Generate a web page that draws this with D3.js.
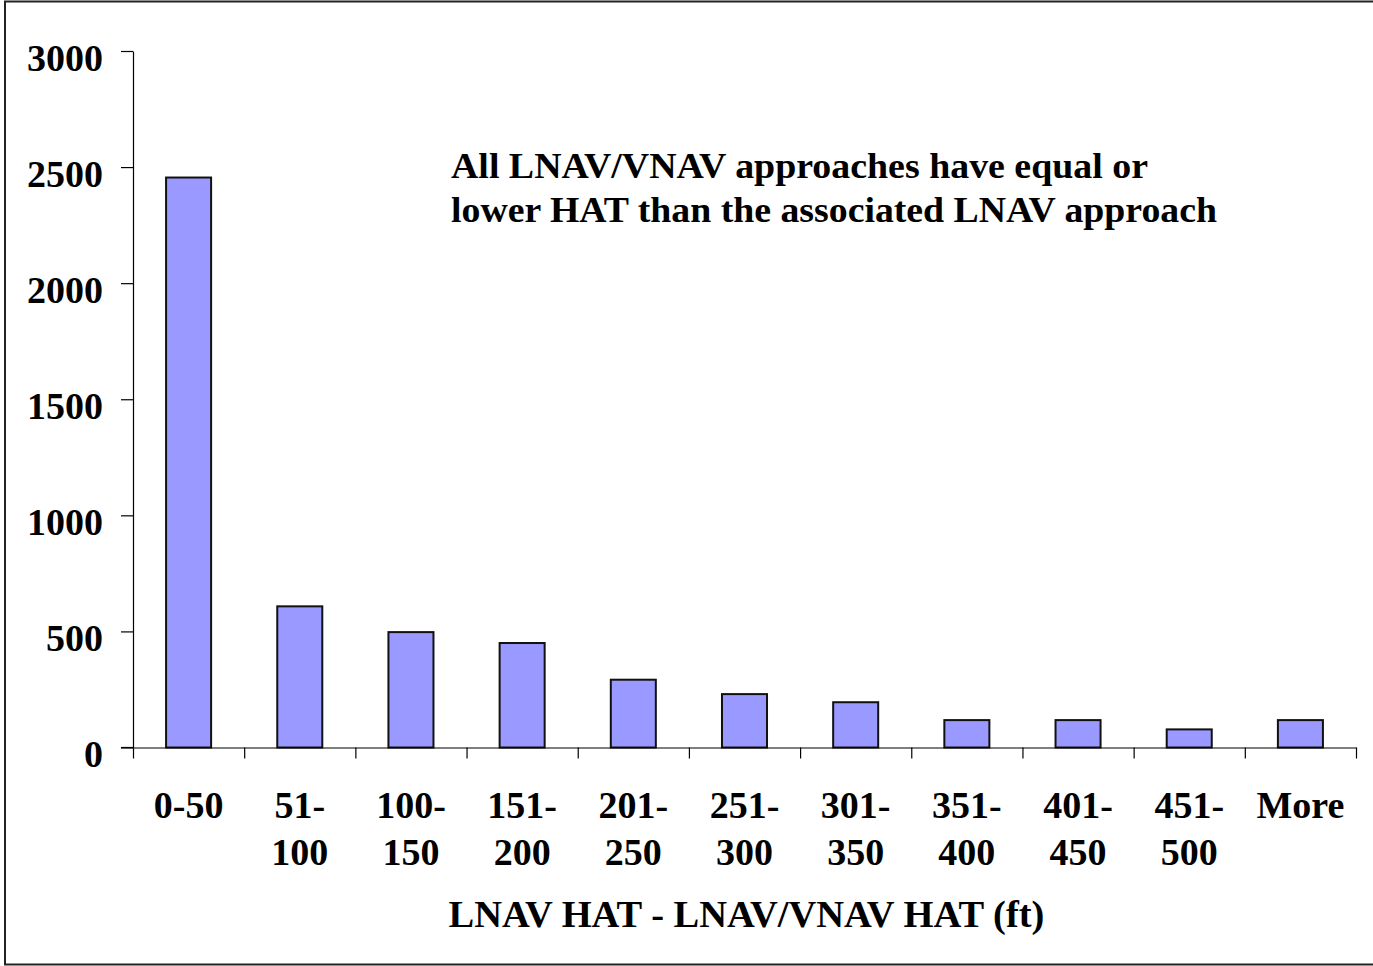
<!DOCTYPE html>
<html>
<head>
<meta charset="utf-8">
<script src="https://cdn.jsdelivr.net/npm/d3@7"></script>
<style>
  html, body { margin: 0; padding: 0; background: #fff; }
  svg { display: block; }
  text { font-family: "Liberation Serif", "Times New Roman", serif; font-weight: bold; fill: #000; }
</style>
</head>
<body>
<svg id="chart" width="1373" height="966"></svg>
<script>
// HAT difference bins (ft) and the number of approaches in each
const categories = [
  ["0-50"], ["51-", "100"], ["100-", "150"], ["151-", "200"], ["201-", "250"],
  ["251-", "300"], ["301-", "350"], ["351-", "400"], ["401-", "450"], ["451-", "500"], ["More"]
];
const counts = [2455, 608, 497, 450, 292, 230, 195, 118, 118, 78, 118];
const yTicks = [0, 500, 1000, 1500, 2000, 2500, 3000];
const noteLines = [
  "All LNAV/VNAV approaches have equal or",
  "lower HAT than the associated LNAV approach"
];
const xTitle = "LNAV HAT - LNAV/VNAV HAT (ft)";

const svg = d3.select("#chart");
const plotLeft = 133, plotRight = 1356, plotTop = 51, plotBottom = 747.5;

// outer frame
svg.append("path")
  .attr("d", `M1373,1.5 H5 V964.5 H1373`)
  .attr("fill", "none").attr("stroke", "#222").attr("stroke-width", 2);

const keys = categories.map(c => c.join(" "));
const x = d3.scaleBand().domain(keys).range([plotLeft, plotRight])
  .paddingInner(0.595).paddingOuter(0.2975);
const xEdges = d3.scaleLinear().domain([0, categories.length]).range([plotLeft, plotRight]);
const y = d3.scaleLinear().domain([0, 3000]).range([plotBottom, plotTop]);

// bars
svg.append("g").selectAll("rect").data(counts).join("rect")
  .attr("x", (d, i) => x(keys[i]))
  .attr("y", d => y(d))
  .attr("width", x.bandwidth())
  .attr("height", d => y(0) - y(d))
  .attr("fill", "#9999ff")
  .attr("stroke", "#111")
  .attr("stroke-width", 2);

// y axis
const yAxis = svg.append("g").attr("transform", `translate(${plotLeft},0)`)
  .call(d3.axisLeft(y).tickValues(yTicks).tickSize(12).tickSizeOuter(0).tickPadding(18).tickFormat(d3.format("d")));
yAxis.select(".domain").attr("stroke", "#000").attr("stroke-width", 1.2);
yAxis.selectAll(".tick line").attr("stroke", "#000").attr("stroke-width", 1.2);
yAxis.selectAll(".tick text")
  .attr("font-size", 38).attr("dy", "0.5em")
  .style("font-family", "'Liberation Serif', serif").style("font-weight", "bold");

// x axis: ticks on bin boundaries
const xAxis = svg.append("g").attr("transform", `translate(0,${plotBottom})`)
  .call(d3.axisBottom(xEdges).tickValues(d3.range(categories.length + 1)).tickSize(11).tickSizeOuter(0).tickFormat(""));
xAxis.select(".domain").attr("stroke", "#000").attr("stroke-width", 1.2);
xAxis.selectAll(".tick line").attr("stroke", "#000").attr("stroke-width", 1.2);
// extend baseline to meet the zero tick on the left
svg.append("line").attr("x1", plotLeft - 12).attr("x2", plotLeft)
  .attr("y1", plotBottom).attr("y2", plotBottom).attr("stroke", "#000").attr("stroke-width", 1.2);

// category labels
const lab = svg.append("g").selectAll("text").data(categories).join("text")
  .attr("x", (d, i) => x(keys[i]) + x.bandwidth() / 2)
  .attr("y", 818)
  .attr("text-anchor", "middle")
  .attr("font-size", 38);
lab.selectAll("tspan").data(d => d).join("tspan")
  .attr("x", function () { return d3.select(this.parentNode).attr("x"); })
  .attr("dy", (d, i) => i === 0 ? 0 : 47)
  .text(d => d);

// axis title
svg.append("text")
  .attr("x", (plotLeft + plotRight) / 2 + 2).attr("y", 927)
  .attr("text-anchor", "middle").attr("font-size", 38.5)
  .text(xTitle);

// annotation
const noteWidths = [697, 766];
svg.append("g").selectAll("text").data(noteLines).join("text")
  .attr("x", 451).attr("y", (d, i) => 178 + i * 44)
  .attr("font-size", 35)
  .attr("textLength", (d, i) => noteWidths[i])
  .attr("lengthAdjust", "spacingAndGlyphs")
  .text(d => d);
</script>
</body>
</html>
